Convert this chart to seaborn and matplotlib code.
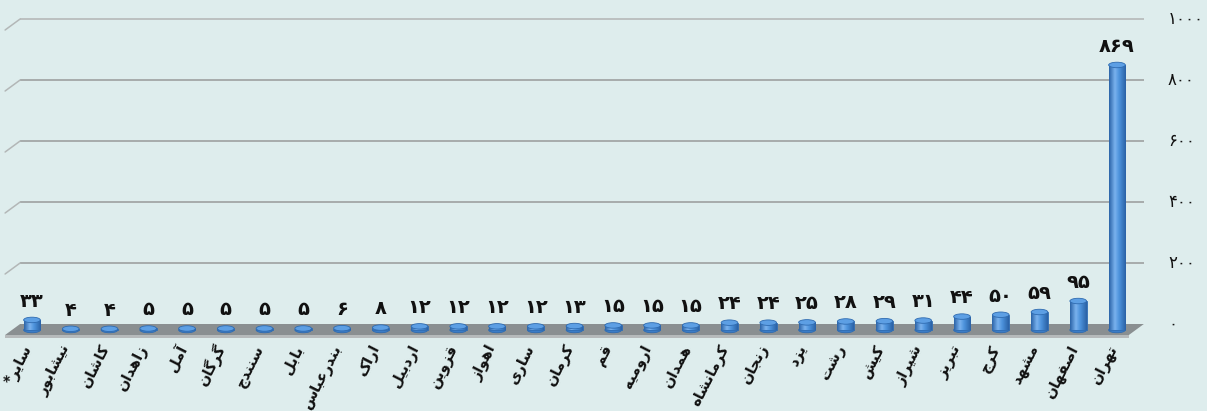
import numpy as np
import matplotlib
matplotlib.use("Agg")
import matplotlib.pyplot as plt
from matplotlib.patches import Ellipse, Polygon
import seaborn as sns

# ---- data -------------------------------------------------------------
cities = ["سایر*", "نیشابور", "کاشان", "زاهدان", "آمل", "گرگان", "سنندج", "بابل",
          "بندرعباس", "اراک", "اردبیل", "قزوین", "اهواز", "ساری", "کرمان", "قم",
          "ارومیه", "همدان", "کرمانشاه", "زنجان", "یزد", "رشت", "کیش", "شیراز",
          "تبریز", "کرج", "مشهد", "اصفهان", "تهران"]
counts = [33, 4, 4, 5, 5, 5, 5, 5, 6, 8, 12, 12, 12, 12, 13, 15, 15, 15,
          24, 24, 25, 28, 29, 31, 44, 50, 59, 95, 869]
y_ticks = [0, 200, 400, 600, 800, 1000]

# ---- simple Persian shaping (presentation forms + visual order) -------
FORMS = {  # isolated, final, initial, medial
    "آ": ("\uFE81", "\uFE82", None, None),
    "ا": ("\uFE8D", "\uFE8E", None, None),
    "ب": ("\uFE8F", "\uFE90", "\uFE91", "\uFE92"),
    "ت": ("\uFE95", "\uFE96", "\uFE97", "\uFE98"),
    "ج": ("\uFE9D", "\uFE9E", "\uFE9F", "\uFEA0"),
    "د": ("\uFEA9", "\uFEAA", None, None),
    "ر": ("\uFEAD", "\uFEAE", None, None),
    "ز": ("\uFEAF", "\uFEB0", None, None),
    "س": ("\uFEB1", "\uFEB2", "\uFEB3", "\uFEB4"),
    "ش": ("\uFEB5", "\uFEB6", "\uFEB7", "\uFEB8"),
    "ص": ("\uFEB9", "\uFEBA", "\uFEBB", "\uFEBC"),
    "ع": ("\uFEC9", "\uFECA", "\uFECB", "\uFECC"),
    "ف": ("\uFED1", "\uFED2", "\uFED3", "\uFED4"),
    "ق": ("\uFED5", "\uFED6", "\uFED7", "\uFED8"),
    "ک": ("\uFB8E", "\uFB8F", "\uFB90", "\uFB91"),
    "گ": ("\uFB92", "\uFB93", "\uFB94", "\uFB95"),
    "ل": ("\uFEDD", "\uFEDE", "\uFEDF", "\uFEE0"),
    "م": ("\uFEE1", "\uFEE2", "\uFEE3", "\uFEE4"),
    "ن": ("\uFEE5", "\uFEE6", "\uFEE7", "\uFEE8"),
    "ه": ("\uFEE9", "\uFEEA", "\uFEEB", "\uFEEC"),
    "و": ("\uFEED", "\uFEEE", None, None),
    "ی": ("\uFBFC", "\uFBFD", "\uFBFE", "\uFBFF"),
}


def shape(text):
    out = []
    n = len(text)
    for i, ch in enumerate(text):
        f = FORMS.get(ch)
        if f is None:
            out.append(ch)
            continue
        prev = FORMS.get(text[i - 1]) if i > 0 else None
        nxt = FORMS.get(text[i + 1]) if i + 1 < n else None
        join_prev = prev is not None and prev[2] is not None
        join_next = f[2] is not None and nxt is not None
        if join_prev and join_next:
            out.append(f[3])
        elif join_prev:
            out.append(f[1])
        elif join_next:
            out.append(f[2])
        else:
            out.append(f[0])
    return "".join(reversed(out))


def fa_digits(v):
    return str(v).translate(str.maketrans("0123456789", "۰۱۲۳۴۵۶۷۸۹"))


# ---- figure -----------------------------------------------------------
W, H, DPI = 1207, 411, 100
BG = "#deeded"
sns.set_style("white")
plt.rcParams["font.family"] = ["DejaVu Sans"]

fig = plt.figure(figsize=(W / DPI, H / DPI), dpi=DPI, facecolor=BG)
ax = fig.add_axes([0, 0, 1, 1])
ax.set_facecolor(BG)

# pixel geometry of the chart plane
PX_PER_CAT = 38.75
X0_PX = 12.6           # pixel of x = -0.5
BASE_PX = 330.0        # pixel row of value 0
PX_PER_UNIT = 0.305
xlim = (-0.5 - X0_PX / PX_PER_CAT, -0.5 + (W - X0_PX) / PX_PER_CAT)
ylim = ((BASE_PX - H) / PX_PER_UNIT, BASE_PX / PX_PER_UNIT)
px_x = 1 / PX_PER_CAT
px_y = 1 / PX_PER_UNIT

# depth offsets of the back wall and front edge
BDX, BDY = 7.5 * px_x, 6 * px_y
FDX, FDY = -7.5 * px_x, -5 * px_y
n = len(cities)

# gridlines on the back wall with the short side-wall stroke
for v in y_ticks[1:]:
    col = "#a3a7a7" if v != 1000 else "#b9bdbd"
    ax.plot([-0.5 + BDX, n - 0.5 + BDX], [v + BDY, v + BDY], color=col, lw=1.3,
            zorder=0.5, solid_capstyle="butt")
    ax.plot([-0.5 + FDX, -0.5 + BDX], [v + FDY, v + BDY], color="#b3b7b7", lw=1.1,
            zorder=0.5)

# floor
floor_top = Polygon([(-0.5 + BDX, BDY), (n - 0.5 + BDX, BDY),
                     (n - 0.5 + FDX, FDY), (-0.5 + FDX, FDY)],
                    closed=True, facecolor="#8a8f91", edgecolor="none", zorder=1)
floor_front = Polygon([(-0.5 + FDX, FDY), (n - 0.5 + FDX, FDY),
                       (n - 0.5 + FDX, FDY - 3 * px_y), (-0.5 + FDX, FDY - 3 * px_y)],
                      closed=True, facecolor="#b6babb", edgecolor="none", zorder=1)
ax.add_patch(floor_top)
ax.add_patch(floor_front)

# bars
BAR_W = 0.43
sns.barplot(x=list(range(n)), y=counts, ax=ax, color="#4a8fd8", saturation=1,
            width=BAR_W, native_scale=True, edgecolor="#2f6bb0", linewidth=0.6,
            zorder=3)

cmap = matplotlib.colors.LinearSegmentedColormap.from_list(
    "cyl", [(0.0, "#2b64a8"), (0.35, "#7ab2ee"), (0.6, "#4d93dc"), (1.0, "#2a62a6")])
g = np.linspace(0, 1, 64).reshape(1, -1)
E_H = 5.5 * px_y
for bar in list(ax.patches):
    if isinstance(bar, Polygon):
        continue
    x, w, h = bar.get_x(), bar.get_width(), bar.get_height()
    cx = x + w / 2
    base = Ellipse((cx, 0), w, E_H, facecolor="#3b7cc6", edgecolor="#2f6bb0",
                   lw=0.6, zorder=2.5)
    ax.add_patch(base)
    im = ax.imshow(g, cmap=cmap, extent=[x, x + w, 0, h], aspect="auto",
                   zorder=3.1, interpolation="bilinear")
    im.set_clip_path(bar)
    top = Ellipse((cx, h), w, E_H, facecolor="#5d9fe4", edgecolor="#2f6bb0",
                  lw=0.6, zorder=4)
    ax.add_patch(top)

# value labels
for i, v in enumerate(counts):
    ax.annotate(fa_digits(v), (i, v), xytext=(0, 9.5), textcoords="offset points",
                ha="center", va="baseline", fontsize=14, fontweight="bold",
                color="#111111", zorder=5)

# category labels
for i, c in enumerate(cities):
    ax.text(i - 0.1, (BASE_PX - 346) / PX_PER_UNIT, shape(c), rotation=63,
            rotation_mode="anchor", ha="right", va="center", fontsize=10.5,
            fontweight="bold", color="#111111", zorder=5)

# value axis labels on the right
for v in y_ticks:
    ax.text(-0.5 + (1168 - X0_PX) / PX_PER_CAT, v + BDY, fa_digits(v),
            ha="left", va="center", fontsize=12, color="#111111")

ax.set_xlim(*xlim)
ax.set_ylim(*ylim)
ax.set_axis_off()
fig.savefig("out.png", dpi=DPI, facecolor=BG)
